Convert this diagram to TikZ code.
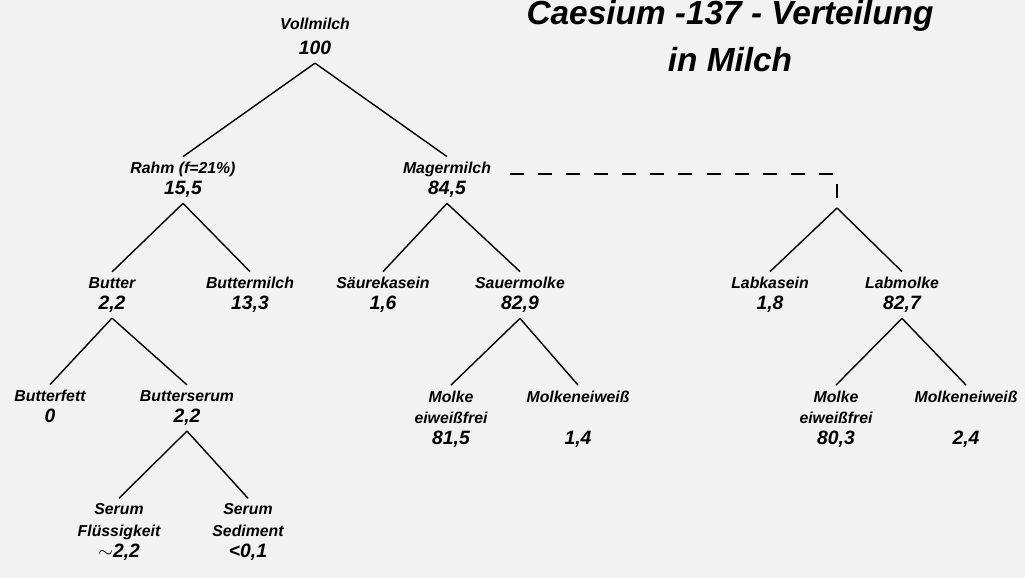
\documentclass[tikz,border=0pt]{standalone}
\usepackage{fontspec}
\setmainfont{Liberation Sans}
\newcommand{\wert}[1]{{\fontsize{11}{12}\selectfont\vphantom{0,}#1}}

\begin{document}
\begin{tikzpicture}[
	x=0.02cm,y=-0.02cm,
	item/.style={inner sep=3pt,align=center,font=\fontsize{9}{12}\selectfont\bfseries\itshape},
	titel/.style={inner sep=0pt,align=center,font=\fontsize{19}{26.7}\selectfont\bfseries\itshape},
	branch/.style={line width=0.8pt},
	link/.style={line width=0.8pt,dash pattern=on 8pt off 8pt}
	]
	\fill[black!5] (0,0) rectangle (1025,578);
	\useasboundingbox (0,0) rectangle (1025,578);
	
	\node[titel] (kopf) at (730,36) {Caesium -137 - Verteilung\\in Milch};
	
	\node[item] (voll) at (315,38) {Vollmilch\\[2pt]\wert{100}};
	\node[item] (rahm) at (183,180) {Rahm (f=21\%)\\\wert{15,5}};
	\node[item] (mager) at (447,180) {Magermilch\\\wert{84,5}};
	
	\node[item] (butter) at (112,295) {Butter\\\wert{2,2}};
	\node[item] (bmilch) at (250,295) {Buttermilch\\\wert{13,3}};
	\node[item] (skasein) at (383,295) {Säurekasein\\\wert{1,6}};
	\node[item] (smolke) at (520,295) {Sauermolke\\\wert{82,9}};
	\node[item] (lkasein) at (770,295) {Labkasein\\\wert{1,8}};
	\node[item] (lmolke) at (902,295) {Labmolke\\\wert{82,7}};
	
	\node[item] (bfett) at (50,408) {Butterfett\\\wert{0}};
	\node[item] (bserum) at (187,408) {Butterserum\\\wert{2,2}};
	\node[item] (smfrei) at (451,419) {Molke\\eiweißfrei\\\wert{81,5}};
	\node[item] (smeiweiss) at (578,419) {Molkeneiweiß\\[12pt]\wert{1,4}};
	\node[item] (lmfrei) at (836,419) {Molke\\eiweißfrei\\\wert{80,3}};
	\node[item] (lmeiweiss) at (966,419) {Molkeneiweiß\\[12pt]\wert{2,4}};
	
	\node[item] (sfluessig) at (119,532) {Serum\\Flüssigkeit\\\wert{$\sim$2,2}};
	\node[item] (ssediment) at (248,532) {Serum\\Sediment\\\wert{<0,1}};
	
	% Labweg haengt gestrichelt an der Magermilch
	\coordinate (labende) at (837,198);
	\coordinate (labsplit) at (837,208);
	\draw[link] (labende) |- ([yshift=3.5pt]mager.east);
	
	\draw[branch] (voll.south) -- (rahm.north);
	\draw[branch] (voll.south) -- (mager.north);
	\draw[branch] (rahm.south) -- (butter.north);
	\draw[branch] (rahm.south) -- (bmilch.north);
	\draw[branch] (mager.south) -- (skasein.north);
	\draw[branch] (mager.south) -- (smolke.north);
	\draw[branch] (labsplit) -- (lkasein.north);
	\draw[branch] (labsplit) -- (lmolke.north);
	\draw[branch] (butter.south) -- (bfett.north);
	\draw[branch] (butter.south) -- (bserum.north);
	\draw[branch] (smolke.south) -- (smfrei.north);
	\draw[branch] (smolke.south) -- (smeiweiss.north);
	\draw[branch] (lmolke.south) -- (lmfrei.north);
	\draw[branch] (lmolke.south) -- (lmeiweiss.north);
	\draw[branch] (bserum.south) -- (sfluessig.north);
	\draw[branch] (bserum.south) -- (ssediment.north);
\end{tikzpicture}
\end{document}
